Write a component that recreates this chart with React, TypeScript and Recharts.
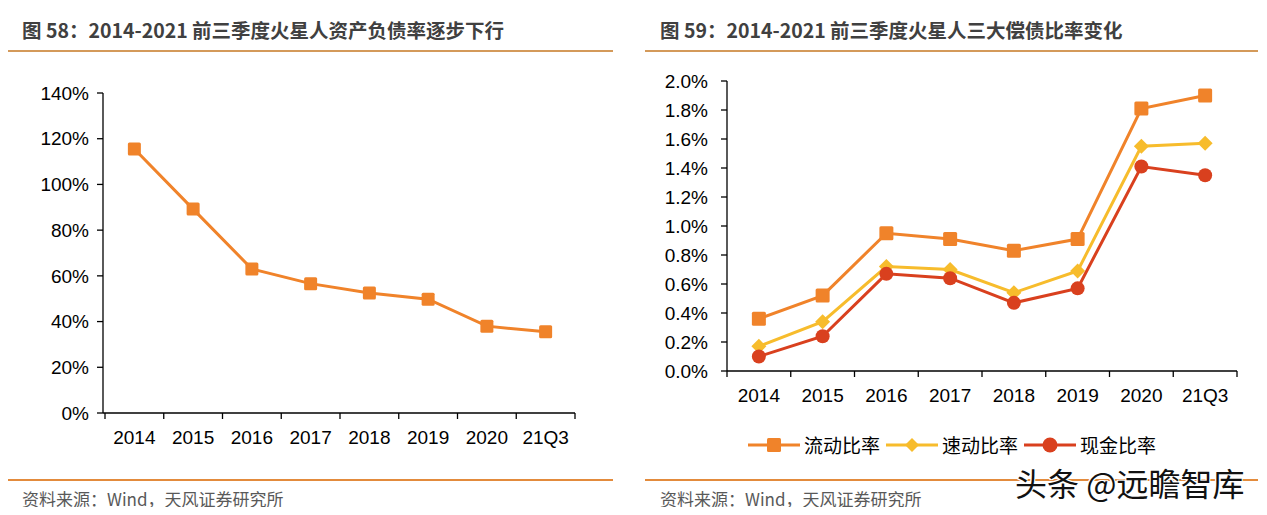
import React from "react"
import { LineChart, Line, XAxis, YAxis } from "recharts"

const years = ["2014", "2015", "2016", "2017", "2018", "2019", "2020", "21Q3"]
// 资产负债率 (%)
const debtRatio = [115.5, 89.2, 63.0, 56.6, 52.5, 49.8, 38.0, 35.5]
// 偿债比率 (%)
const currentRatio = [0.36, 0.52, 0.95, 0.91, 0.83, 0.91, 1.81, 1.9]
const quickRatio = [0.17, 0.34, 0.72, 0.7, 0.54, 0.69, 1.55, 1.57]
const cashRatio = [0.1, 0.24, 0.67, 0.64, 0.47, 0.57, 1.41, 1.35]

const leftTicks = [0, 20, 40, 60, 80, 100, 120, 140]
const rightTicks = [0, 0.2, 0.4, 0.6, 0.8, 1.0, 1.2, 1.4, 1.6, 1.8, 2.0]

const ORANGE = "#F0832A"
const YELLOW = "#F7BC2C"
const RED = "#D9401E"
const FONT = "'Liberation Sans', Arial, sans-serif"
const CJK = "'Noto Sans CJK SC', sans-serif"

const leftData = years.map((y, i) => ({ year: y, debt: debtRatio[i] }))
const rightData = years.map((y, i) => ({
  year: y,
  current: currentRatio[i],
  quick: quickRatio[i],
  cash: cashRatio[i],
}))

const LEFT_STEP = 470 / 8
const RIGHT_STEP = 510 / 8

const makeXTick = (axisY: number, step: number) => (props: any) => {
  const { x, payload } = props
  const last = payload.value === years[years.length - 1]
  return (
    <g>
      <line x1={x - step / 2} x2={x - step / 2} y1={axisY} y2={axisY + 6} stroke="#000" strokeWidth={1.3} />
      {last && <line x1={x + step / 2} x2={x + step / 2} y1={axisY} y2={axisY + 6} stroke="#000" strokeWidth={1.3} />}
      <text x={x} y={axisY + 24} textAnchor="middle" dominantBaseline="central" fontSize={19} fill="#000" fontFamily={FONT}>
        {payload.value}
      </text>
    </g>
  )
}

const SquareDot = (size: number, color: string) => (props: any) => {
  const { cx, cy, index } = props
  if (cx == null || cy == null) return <g key={index} />
  return <rect key={index} x={cx - size / 2} y={cy - size / 2} width={size} height={size} rx={1.5} fill={color} />
}

const DiamondDot = (size: number, color: string) => (props: any) => {
  const { cx, cy, index } = props
  if (cx == null || cy == null) return <g key={index} />
  const h = size / 2
  return <polygon key={index} points={`${cx},${cy - h} ${cx + h},${cy} ${cx},${cy + h} ${cx - h},${cy}`} fill={color} />
}

const CircleDot = (r: number, color: string) => (props: any) => {
  const { cx, cy, index } = props
  if (cx == null || cy == null) return <g key={index} />
  return <circle key={index} cx={cx} cy={cy} r={r} fill={color} />
}

const titleStyle: React.CSSProperties = {
  position: "absolute",
  top: 16,
  fontFamily: CJK,
  fontWeight: 700,
  fontSize: 19.5,
  lineHeight: "28px",
  color: "#404040",
  whiteSpace: "nowrap",
}

const sourceStyle: React.CSSProperties = {
  position: "absolute",
  top: 487,
  fontFamily: CJK,
  fontSize: 17,
  lineHeight: "24px",
  color: "#595959",
  whiteSpace: "nowrap",
}

const legendItems = [
  { name: "流动比率", color: ORANGE, shape: "square" },
  { name: "速动比率", color: YELLOW, shape: "diamond" },
  { name: "现金比率", color: RED, shape: "circle" },
]

function LegendIcon({ color, shape }: { color: string; shape: string }) {
  return (
    <svg width={52} height={18} style={{ display: "block" }}>
      <line x1={0} x2={52} y1={9} y2={9} stroke={color} strokeWidth={3} />
      {shape === "square" && <rect x={19} y={2} width={14} height={14} rx={1.5} fill={color} />}
      {shape === "diamond" && <polygon points="26,2 33,9 26,16 19,9" fill={color} />}
      {shape === "circle" && <circle cx={26} cy={9} r={7.5} fill={color} />}
    </svg>
  )
}

const axisStyle = { stroke: "#000", strokeWidth: 1.3 }
const yTick = { fill: "#000", fontSize: 19, fontFamily: FONT }

export default function App() {
  return (
    <div style={{ position: "relative", width: 1267, height: 515, margin: -8, background: "#fff", overflow: "hidden" }}>
      {/* left panel */}
      <div style={{ ...titleStyle, left: 22 }}>图 58：2014-2021 前三季度火星人资产负债率逐步下行</div>
      <div style={{ position: "absolute", left: 7, top: 50, width: 606, height: 2, background: "#D49A5A" }} />
      <div style={{ position: "absolute", left: 7, top: 479, width: 606, height: 2, background: "#E38B3C" }} />
      <div style={{ ...sourceStyle, left: 22 }}>资料来源：Wind，天风证券研究所</div>
      <div style={{ position: "absolute", left: 0, top: 0 }}>
        <LineChart width={620} height={470} data={leftData} margin={{ top: 93, right: 45, bottom: 27, left: 0 }}>
          <XAxis
            dataKey="year"
            interval={0}
            height={30}
            padding={{ left: LEFT_STEP / 2 + 2, right: LEFT_STEP / 2 }}
            axisLine={axisStyle}
            tickLine={false}
            tick={makeXTick(413, LEFT_STEP)}
          />
          <YAxis
            width={103}
            domain={[0, 140]}
            ticks={leftTicks}
            interval={0}
            tickFormatter={(v: number) => `${v}%`}
            axisLine={axisStyle}
            tickLine={axisStyle}
            tickSize={6}
            tickMargin={8}
            tick={yTick}
          />
          <Line
            dataKey="debt"
            stroke={ORANGE}
            strokeWidth={3}
            dot={SquareDot(13, ORANGE)}
            activeDot={false}
            isAnimationActive={false}
          />
        </LineChart>
      </div>

      {/* right panel */}
      <div style={{ ...titleStyle, left: 660 }}>图 59：2014-2021 前三季度火星人三大偿债比率变化</div>
      <div style={{ position: "absolute", left: 645, top: 50, width: 613, height: 2, background: "#D49A5A" }} />
      <div style={{ position: "absolute", left: 645, top: 479, width: 613, height: 2, background: "#E38B3C" }} />
      <div style={{ ...sourceStyle, left: 660 }}>资料来源：Wind，天风证券研究所</div>
      <div style={{ position: "absolute", left: 640, top: 0 }}>
        <LineChart width={620} height={430} data={rightData} margin={{ top: 81, right: 23, bottom: 29, left: 0 }}>
          <XAxis
            dataKey="year"
            interval={0}
            height={30}
            padding={{ left: RIGHT_STEP / 2, right: RIGHT_STEP / 2 }}
            axisLine={axisStyle}
            tickLine={false}
            tick={makeXTick(371, RIGHT_STEP)}
          />
          <YAxis
            width={87}
            domain={[0, 2]}
            ticks={rightTicks}
            interval={0}
            tickFormatter={(v: number) => `${v.toFixed(1)}%`}
            axisLine={axisStyle}
            tickLine={axisStyle}
            tickSize={6}
            tickMargin={13}
            tick={yTick}
          />
          <Line dataKey="current" stroke={ORANGE} strokeWidth={3} dot={SquareDot(14, ORANGE)} activeDot={false} isAnimationActive={false} />
          <Line dataKey="quick" stroke={YELLOW} strokeWidth={3} dot={DiamondDot(15, YELLOW)} activeDot={false} isAnimationActive={false} />
          <Line dataKey="cash" stroke={RED} strokeWidth={3} dot={CircleDot(7, RED)} activeDot={false} isAnimationActive={false} />
        </LineChart>
      </div>
      <div style={{ position: "absolute", left: 748, top: 433, display: "flex", alignItems: "center", fontFamily: CJK, fontSize: 19, color: "#000" }}>
        {legendItems.map((it) => (
          <div key={it.name} style={{ display: "flex", alignItems: "center", marginRight: 6 }}>
            <LegendIcon color={it.color} shape={it.shape} />
            <span style={{ marginLeft: 4, lineHeight: "24px" }}>{it.name}</span>
          </div>
        ))}
      </div>

      {/* watermark */}
      <div
        style={{
          position: "absolute",
          left: 1015,
          top: 462,
          fontFamily: CJK,
          fontSize: 32,
          lineHeight: "40px",
          color: "#111",
          whiteSpace: "nowrap",
          textShadow: "1px 1px 0 #fff, -1px -1px 0 #fff, 1px -1px 0 #fff, -1px 1px 0 #fff",
        }}
      >
        头条 @远瞻智库
      </div>
    </div>
  )
}
